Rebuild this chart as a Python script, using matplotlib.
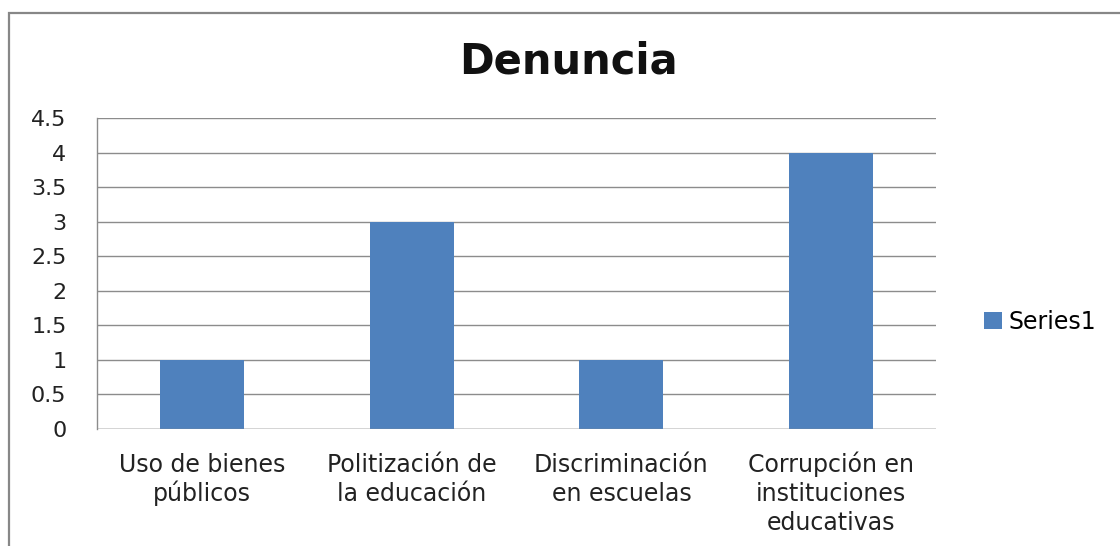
import matplotlib
matplotlib.use("Agg")
import matplotlib.pyplot as plt
from matplotlib.patches import Rectangle
from matplotlib.transforms import ScaledTranslation

categories = ["Uso de bienes\npúblicos", "Politización de\nla educación",
              "Discriminación\nen escuelas", "Corrupción en\ninstituciones\neducativas"]
values = [1, 3, 1, 4]
yticks = [0, 0.5, 1, 1.5, 2, 2.5, 3, 3.5, 4, 4.5]
ytick_labels = ["0", "0.5", "1", "1.5", "2", "2.5", "3", "3.5", "4", "4.5"]
series_name = "Series1"
title = "Denuncia"

plt.rcParams['font.family'] = ['DejaVu Sans']

W, H = 1120, 546
fig = plt.figure(figsize=(W / 100, H / 100), dpi=100)
ax = fig.add_axes([97 / W, 1 - 429 / H, (936 - 97) / W, (429 - 118) / H])

x = list(range(len(categories)))
bars = ax.bar(x, values, width=0.4, color="#4F81BD", label=series_name, zorder=3)
ax.set_xlim(-0.5, len(categories) - 0.5)
ax.set_ylim(0, 4.5)
ax.set_yticks(yticks)
ax.set_yticklabels(ytick_labels, fontsize=16)
ax.set_xticks(x)
ax.set_xticklabels([""] * len(categories))
ax.tick_params(axis='both', length=0, colors="#222222")
ax.tick_params(axis='y', pad=22)
ax.yaxis.grid(True, color="#8c8c8c", linewidth=1, zorder=0)
for s in ["top", "right", "bottom"]:
    ax.spines[s].set_visible(False)
ax.spines["left"].set_color("#8c8c8c")
ax.spines["left"].set_linewidth(1)
ax.axhline(0, color="#8c8c8c", linewidth=1, zorder=4)

# category labels: each line on a common baseline grid (first baseline 43px below axis, 29px spacing)
base = ax.get_xaxis_transform()
for xi, lab in zip(x, categories):
    for j, line in enumerate(lab.split("\n")):
        off = ScaledTranslation(0, -(43 + 29 * j) / 100, fig.dpi_scale_trans)
        ax.text(xi, 0, line, transform=base + off, ha="center", va="baseline",
                fontsize=17, color="#222222", clip_on=False)

fig.text(568 / W, 1 - 62 / H, title, ha="center", va="center", fontsize=30, fontweight="bold", color="#111111")

leg = fig.legend(handles=[bars], labels=[series_name], loc="center left",
                 bbox_to_anchor=(984 / W, 1 - 322 / H), frameon=False, fontsize=17,
                 handlelength=0.75, handleheight=0.7, handletextpad=0.3, borderpad=0,
                 borderaxespad=0)

# outer chart border (extends beyond image at right and bottom)
fig.patches.append(Rectangle((9 / W, -0.1), 1.2, 1 - 13 / H + 0.1, transform=fig.transFigure,
                             fill=False, edgecolor="#878787", linewidth=1.6))

fig.savefig("out.png", dpi=100)
